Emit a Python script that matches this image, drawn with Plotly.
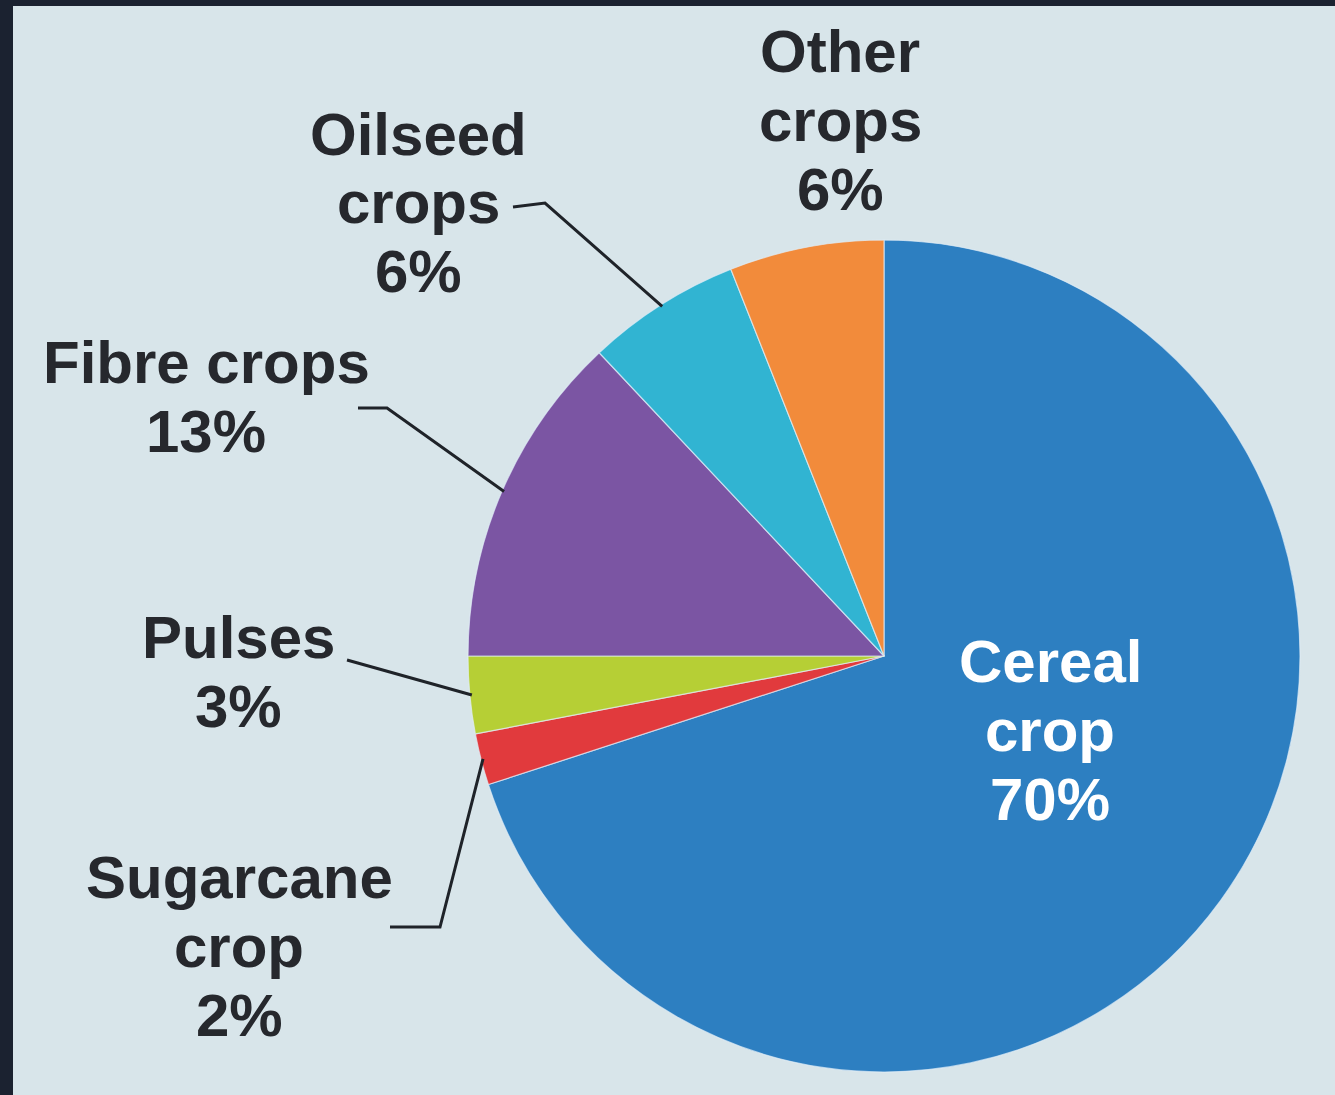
import math
import plotly.graph_objects as go

# ---- data ----
categories = ["Cereal crop", "Sugarcane crop", "Pulses", "Fibre crops", "Oilseed crops", "Other crops"]
shares = [70, 2, 3, 13, 6, 6]
label_lines = [["Cereal", "crop"], ["Sugarcane", "crop"], ["Pulses"], ["Fibre crops"],
               ["Oilseed", "crops"], ["Other", "crops"]]

# ---- styles / layout ----
slice_colors = ["#2d7fc1", "#e13a3d", "#b6cf35", "#7b55a3", "#31b4d2", "#f28b3b"]
W, H = 1335, 1095
CX, CY, R = 884, 656, 416          # pie centre / radius in pixels
BG = "#d8e5ea"
FRAME = "#1b2230"
TXT = "#26282d"
FS = 60
LINE_GAP = 69

# label placement (centre x, middle y of first line) in pixels
label_pos = [(1050, 661), (239, 877), (238, 637), (206, 362), (419, 134), (840, 51)]
label_color = ["white", TXT, TXT, TXT, TXT, TXT]
# leader-line start / elbow points (pixels); end is on the slice edge
leaders = {1: [(390, 927), (440, 927)],
           2: [(347, 660)],
           3: [(358, 408), (387, 408)],
           4: [(513, 207), (545, 203)]}


def px(x):
    return x / W


def py(y):
    return 1 - y / H


fig = go.Figure(go.Pie(
    labels=categories, values=shares, sort=False, direction="clockwise", rotation=0,
    marker=dict(colors=slice_colors, line=dict(color="rgba(225,238,248,0.7)", width=1.2)),
    textinfo="none", hoverinfo="label+percent", showlegend=False,
    domain=dict(x=[px(CX - R), px(CX + R)], y=[py(CY + R), py(CY - R)]),
))

annotations = []
for i, lines in enumerate(label_lines):
    x0, y0 = label_pos[i]
    all_lines = lines + [f"{shares[i]}%"]
    for k, t in enumerate(all_lines):
        annotations.append(dict(
            text=f"<b>{t}</b>", x=px(x0), y=py(y0 + k * LINE_GAP), xref="paper", yref="paper",
            xanchor="center", yanchor="middle", showarrow=False,
            font=dict(family="Liberation Sans, Arial, sans-serif", size=FS, color=label_color[i]),
        ))

shapes = [dict(type="rect", xref="paper", yref="paper", x0=px(13), x1=1, y0=0, y1=py(6),
               fillcolor=BG, line=dict(width=0), layer="below")]

total = sum(shares)
cum = 0
for i, v in enumerate(shares):
    frac = (cum + v / 2) / total
    cum += v
    if i not in leaders:
        continue
    th = 2 * math.pi * frac
    ex = CX + (R - 2) * math.sin(th)
    ey = CY - (R - 2) * math.cos(th)
    pts = leaders[i] + [(ex, ey)]
    path = "M " + " L ".join(f"{px(a):.5f},{py(b):.5f}" for a, b in pts)
    shapes.append(dict(type="path", path=path, xref="paper", yref="paper",
                       line=dict(color="#1f2329", width=3), layer="above"))

fig.update_layout(
    width=W, height=H, margin=dict(l=0, r=0, t=0, b=0),
    paper_bgcolor=FRAME, plot_bgcolor=FRAME,
    annotations=annotations, shapes=shapes,
)

fig.write_html("out.html")
